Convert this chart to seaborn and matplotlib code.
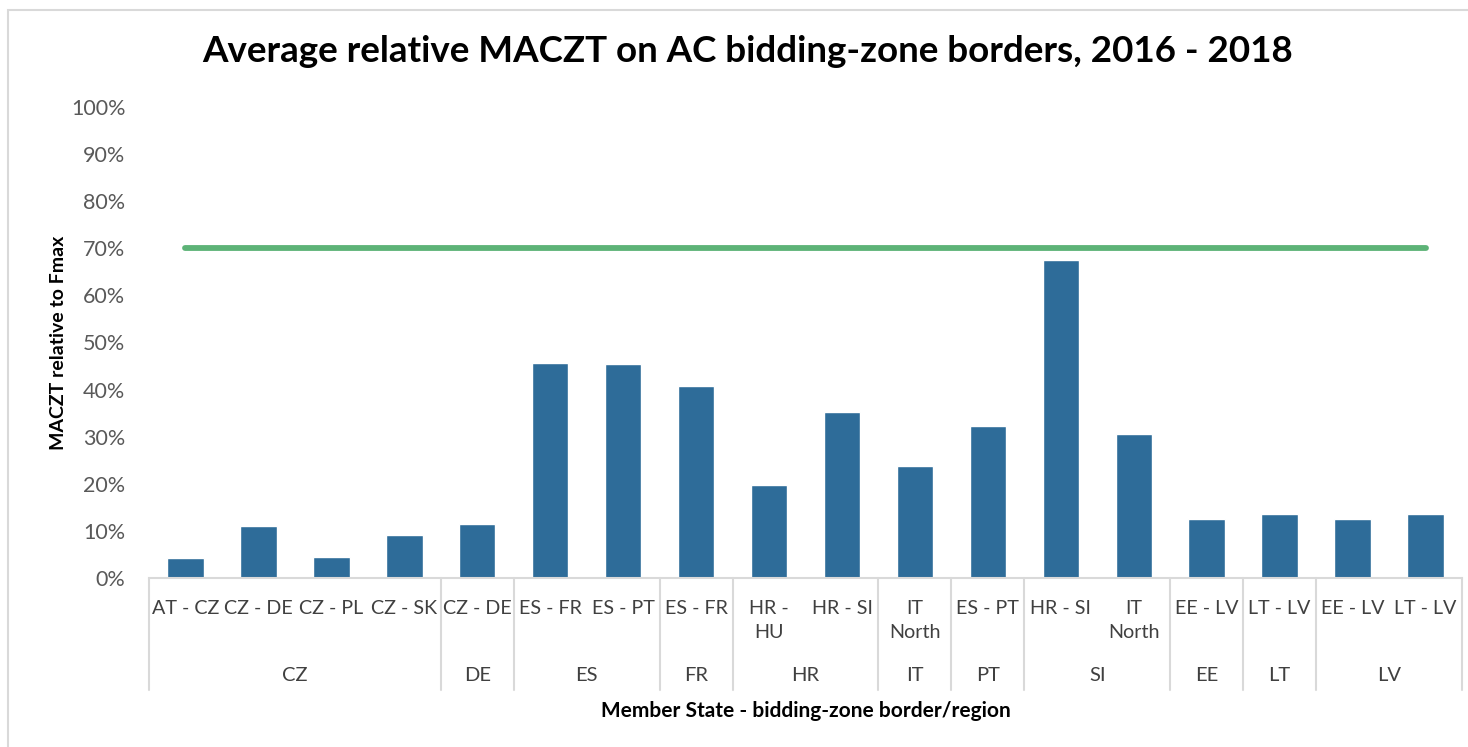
import numpy as np
import pandas as pd
import matplotlib
matplotlib.use("Agg")
import matplotlib.pyplot as plt
from matplotlib.patches import Rectangle
from matplotlib.lines import Line2D
import seaborn as sns

# data
borders = ["AT - CZ", "CZ - DE", "CZ - PL", "CZ - SK", "CZ - DE", "ES - FR", "ES - PT",
           "ES - FR", "HR -\nHU", "HR - SI", "IT\nNorth", "ES - PT", "HR - SI", "IT\nNorth",
           "EE - LV", "LT - LV", "EE - LV", "LT - LV"]
member_states = ["CZ", "DE", "ES", "FR", "HR", "IT", "PT", "SI", "EE", "LT", "LV"]
group_sizes = [4, 1, 2, 1, 2, 1, 1, 2, 1, 1, 2]
maczt = [0.042, 0.110, 0.045, 0.091, 0.114, 0.456, 0.454, 0.407, 0.197, 0.352, 0.238,
         0.323, 0.675, 0.306, 0.126, 0.136, 0.126, 0.136]
target = 0.70

BAR = "#2E6C99"
GREEN = "#5DB377"
GRID = "#D9D9D9"
TXT = "#404040"

sns.set_theme(style="white")
plt.rcParams["font.family"] = ["Lato", "DejaVu Sans"]

df = pd.DataFrame({"pos": np.arange(len(borders)), "value": maczt})

fig = plt.figure(figsize=(14.68, 7.47), dpi=100)
W, H = 1468, 747
ax = fig.add_axes([149 / W, 1 - 578 / H, (1462 - 149) / W, (578 - 107) / H])

sns.barplot(data=df, x="pos", y="value", color=BAR, width=0.5, saturation=1, ax=ax)
ax.plot([0, len(borders) - 1], [target, target], color=GREEN, lw=4.2,
        solid_capstyle="round", zorder=3)

ax.set_xlim(-0.5, len(borders) - 0.5)
ax.set_ylim(0, 1)
ax.set_yticks(np.arange(0, 1.01, 0.1))
ax.set_yticklabels([f"{int(round(v * 100))}%" for v in np.arange(0, 1.01, 0.1)],
                   fontsize=15.5, color="#595959")
ax.tick_params(axis="y", length=0, pad=17)
ax.set_xticks([])
ax.set_xlabel("")
ax.set_ylabel("")
for s in ["left", "top", "right"]:
    ax.spines[s].set_visible(False)
ax.spines["bottom"].set_color(GRID)
ax.spines["bottom"].set_linewidth(1.5)

trans = ax.get_xaxis_transform()
# level 1 labels
for i, lab in enumerate(borders):
    ax.text(i, -0.046, lab, transform=trans, ha="center", va="top", fontsize=14.2,
            color=TXT, linespacing=1.5)
# level 2 labels and separators
bounds = np.concatenate([[0], np.cumsum(group_sizes)]) - 0.5
for k, ms in enumerate(member_states):
    ax.text((bounds[k] + bounds[k + 1]) / 2, -0.207, ms, transform=trans,
            ha="center", va="center", fontsize=14.5, color=TXT)
for b in bounds:
    ax.add_line(Line2D([b, b], [0, -0.238], transform=trans, color=GRID, lw=1.5,
                       clip_on=False))

ax.text(0.5, -0.282, "Member State - bidding-zone border/region", transform=ax.transAxes,
        ha="center", va="center", fontsize=15, fontweight="bold", color="black")
ax.text(-0.069, 0.5, "MACZT relative to Fmax", transform=ax.transAxes, rotation=90,
        ha="center", va="center", fontsize=14, fontweight="bold", color="black")

fig.text(748 / W, 1 - 52 / H, "Average relative MACZT on AC bidding-zone borders, 2016 - 2018",
         ha="center", va="center", fontsize=26.5, fontweight="bold", color="black")

fig.patches.append(Rectangle((8 / W, -0.05), 1.2, 1 - 10 / H + 0.05, transform=fig.transFigure,
                             fill=False, edgecolor=GRID, lw=1.5))

fig.savefig("out.png", dpi=100)
